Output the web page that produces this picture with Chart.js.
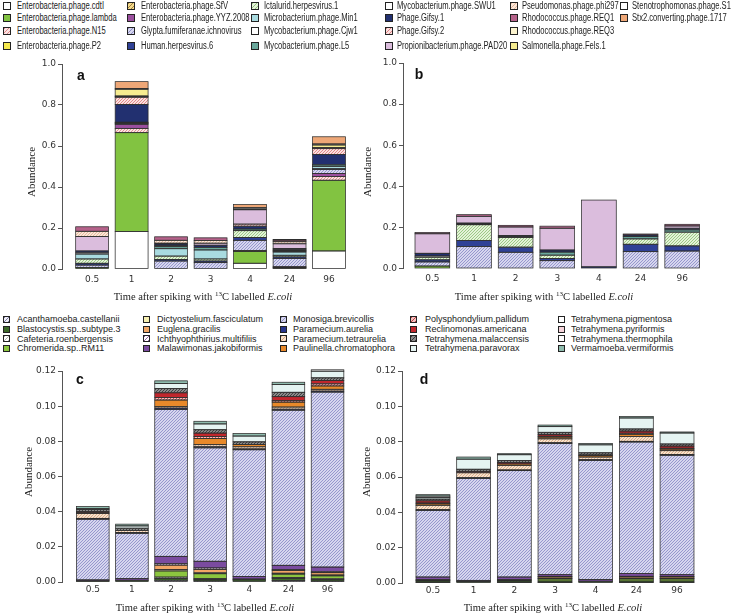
<!DOCTYPE html>
<html><head><meta charset="utf-8">
<script src="https://cdn.jsdelivr.net/npm/chart.js@4.4.0/dist/chart.umd.min.js"></script>
<style>
html,body{margin:0;padding:0;background:#fff;}
#root{position:relative;width:739px;height:615px;overflow:hidden;background:#fff;}
canvas{position:absolute;}
.sw{position:absolute;box-sizing:border-box;border:1.5px solid #222;}
.tx{position:absolute;transform-origin:0 50%;white-space:nowrap;font-family:"Liberation Sans",Arial,sans-serif;color:#222222;}
.ytitle{position:absolute;font-family:"Liberation Serif","Times New Roman",serif;font-size:11px;color:#222;transform:translate(-50%,-50%) rotate(-90deg);white-space:nowrap;}
.xtitle{position:absolute;font-family:"Liberation Serif","Times New Roman",serif;font-size:10.5px;color:#222;transform:translate(-50%,-50%);white-space:nowrap;}
.xtitle sup{font-size:7px;vertical-align:4px;line-height:0;}
.plab{position:absolute;font-family:"Liberation Sans",Arial,sans-serif;font-weight:bold;font-size:14px;color:#111;transform:translate(-50%,-50%);}
</style></head>
<body><div id="root"></div>
<script>
// ---------- data ----------
const times = ['0.5','1','2','3','4','24','96'];
const yTicksAB = [0, 0.2, 0.4, 0.6, 0.8, 1.0];
const yTicksCD = [0, 0.02, 0.04, 0.06, 0.08, 0.10, 0.12];

const virusNames = ['Enterobacteria.phage.cdtI','Enterobacteria.phage.lambda','Enterobacteria.phage.N15','Enterobacteria.phage.P2',
 'Enterobacteria.phage.SfV','Enterobacteria.phage.YYZ.2008','Glypta.fumiferanae.ichnovirus','Human.herpesvirus.6',
 'Ictalurid.herpesvirus.1','Microbacterium.phage.Min1','Mycobacterium.phage.Cjw1','Mycobacterium.phage.L5',
 'Mycobacterium.phage.SWU1','Phage.Gifsy.1','Phage.Gifsy.2','Propionibacterium.phage.PAD20',
 'Pseudomonas.phage.phi297','Rhodococcus.phage.REQ1','Rhodococcus.phage.REQ3','Salmonella.phage.Fels.1',
 'Stenotrophomonas.phage.S1','Stx2.converting.phage.1717'];

const eukNames = ['Acanthamoeba.castellanii','Blastocystis.sp..subtype.3','Cafeteria.roenbergensis','Chromerida.sp..RM11',
 'Dictyostelium.fasciculatum','Euglena.gracilis','Ichthyophthirius.multifiliis','Malawimonas.jakobiformis',
 'Monosiga.brevicollis','Paramecium.aurelia','Paramecium.tetraurelia','Paulinella.chromatophora',
 'Polysphondylium.pallidum','Reclinomonas.americana','Tetrahymena.malaccensis','Tetrahymena.paravorax',
 'Tetrahymena.pigmentosa','Tetrahymena.pyriformis','Tetrahymena.thermophila','Vermamoeba.vermiformis'];

// panel a: one row per virus (legend order), one column per time
const virusA = [
 [0,0.183,0,0,0.028,0,0.088],
 [0.008,0.482,0,0,0.057,0.004,0.345],
 [0,0.021,0,0,0,0.004,0.018],
 [0,0,0,0,0,0,0],
 [0,0,0,0,0.005,0,0],
 [0,0.02,0,0,0,0.003,0.015],
 [0.011,0.004,0.039,0.031,0.05,0.04,0.02],
 [0.009,0.003,0.008,0.008,0.014,0.008,0.003],
 [0.021,0,0.016,0.01,0.033,0.008,0],
 [0.024,0,0.036,0.044,0,0.016,0.012],
 [0.006,0,0,0,0,0.004,0],
 [0,0.003,0.01,0.013,0.008,0.004,0.007],
 [0,0,0.005,0,0,0.003,0],
 [0.009,0.087,0.008,0.01,0.014,0.006,0.05],
 [0,0.035,0,0,0.01,0,0.029],
 [0.07,0,0.004,0.01,0.07,0.023,0],
 [0.026,0.003,0.014,0.013,0.004,0.01,0],
 [0.022,0.003,0.017,0.013,0,0.008,0.005],
 [0,0,0,0,0,0,0],
 [0,0.033,0,0,0,0,0.013],
 [0,0.004,0,0,0.006,0.003,0.005],
 [0,0.033,0,0,0.016,0,0.035]
];
// panel b
const virusB = [
 [0,0,0,0,0,0,0],
 [0.012,0,0,0,0,0,0],
 [0,0,0,0,0,0,0],
 [0,0,0,0,0,0,0],
 [0,0,0,0,0,0,0],
 [0,0,0,0,0,0,0],
 [0.02,0.107,0.079,0.038,0,0.082,0.085],
 [0.01,0.029,0.025,0.011,0.008,0.036,0.025],
 [0.013,0.077,0.047,0.016,0,0.026,0.067],
 [0,0,0,0,0,0,0],
 [0.006,0,0,0,0,0,0],
 [0,0.004,0.005,0.015,0,0.011,0.011],
 [0,0,0,0,0,0,0],
 [0.013,0.004,0.005,0.01,0,0.008,0.008],
 [0,0,0,0,0,0,0],
 [0.095,0.033,0.041,0.106,0.325,0,0.011],
 [0,0,0,0,0,0,0],
 [0.006,0.008,0.008,0.01,0,0.005,0.008],
 [0,0,0,0,0,0,0],
 [0,0,0,0,0,0,0],
 [0,0,0,0,0,0,0],
 [0,0,0,0,0,0,0]
];
// panel c: one row per eukaryote
const eukC = [
 [0,0,0.001,0.0006,0,0.0008,0.0005],
 [0.0006,0.001,0.001,0.0008,0.0012,0.0012,0.0008],
 [0,0,0.0008,0.0005,0,0.0006,0.0005],
 [0,0,0.0035,0.0028,0.0005,0.0019,0.0017],
 [0,0,0.0008,0.0005,0,0.0005,0.0005],
 [0,0,0.0025,0.002,0,0.0015,0.0013],
 [0,0,0.0008,0.0008,0,0.0006,0.0005],
 [0.0006,0.0009,0.0042,0.0038,0.0015,0.0024,0.0027],
 [0.0345,0.0258,0.0835,0.0645,0.072,0.0882,0.0995],
 [0.0005,0.0004,0.0008,0.0006,0.0005,0.0006,0.0006],
 [0.0028,0.0012,0.0008,0.0012,0.0012,0.0012,0.001],
 [0.0004,0,0.0038,0.0035,0.0013,0.0028,0.0019],
 [0,0,0.0015,0.0012,0,0.0008,0.0012],
 [0.0006,0,0.0026,0.0019,0,0.0023,0.0019],
 [0.0012,0.0013,0.0025,0.0019,0.0015,0.0025,0.0015],
 [0.0006,0.0013,0.0028,0.0033,0.0033,0.0044,0.0038],
 [0,0,0,0,0,0,0],
 [0,0,0,0,0,0,0],
 [0,0,0,0,0,0,0],
 [0.0012,0.001,0.0015,0.0015,0.0015,0.0013,0.0008]
];
// panel d
const eukD = [
 [0.0003,0,0.0003,0.0003,0,0.0003,0.0003],
 [0.0008,0.0008,0.0008,0.0008,0.001,0.0008,0.0008],
 [0,0,0,0,0,0,0],
 [0.0004,0,0.0004,0.0012,0,0.0012,0.0012],
 [0,0,0,0.0003,0,0.0003,0.0003],
 [0.0004,0,0.0004,0.0008,0,0.0008,0.0008],
 [0,0,0,0.0003,0,0.0004,0.0003],
 [0.0015,0.0007,0.0015,0.001,0.0009,0.0015,0.001],
 [0.0377,0.0577,0.0602,0.0742,0.0675,0.0745,0.0676],
 [0.0004,0.0004,0.0004,0.0005,0.0004,0.0004,0.0004],
 [0.0025,0.0028,0.0026,0.0022,0.0015,0.0028,0.0022],
 [0.0008,0,0.0008,0.001,0.0008,0.0012,0.0009],
 [0.0005,0,0,0.0005,0,0.0006,0.0005],
 [0.0012,0.0008,0.0008,0.001,0.0004,0.0012,0.0012],
 [0.001,0.0012,0.0012,0.0012,0.0012,0.0012,0.0012],
 [0.0009,0.0057,0.0032,0.0032,0.0045,0.0062,0.0062],
 [0,0,0,0,0,0,0],
 [0,0,0,0,0,0,0],
 [0.0008,0,0,0,0,0,0],
 [0.0008,0.0012,0.0006,0.0009,0.0007,0.0008,0.0006]
];

// ---------- styles ----------
// [fill, hatchLineColor or null]
const virusStyle = [
 ['#ffffff',null],['#82c341',null],['#fbe3e3','#e08a8a'],['#f5e94e',null],
 ['#f3d98a','#a08040'],['#9b4f9e',null],['#d6d6ee','#8f8fc8'],['#2f4196',null],
 ['#e4f2d8','#93c47d'],['#a9dbe0',null],['#ffffff',null],['#6aa89c',null],
 ['#ffffff',null],['#223070',null],['#fbe0e0','#de8080'],['#dbbddd',null],
 ['#fbe6d6','#e0b49a'],['#b5628a',null],['#fcf4cf',null],['#f6ec90',null],
 ['#ffffff',null],['#eea777',null]
];
const eukStyle = [
 ['#f0eef8','#7a7aa0'],['#3e6a2a',null],['#ffffff','#b0b0b0'],['#8cc63f',null],
 ['#f7f0b2',null],['#f2a766',null],['#ffffff','#9060a0'],['#7b4ca0',null],
 ['#d6d6ee','#8f8fc8'],['#27358c',null],['#f9e2cc','#d4a884'],['#e8892a',null],
 ['#f3c0c0','#c04040'],['#c1272d',null],['#8a8a8a','#3a3a3a'],['#e5f4f2',null],
 ['#ffffff',null],['#f6d5dc',null],['#ffffff',null],['#8fbcae',null]
];

const root = document.getElementById('root');

function hatch(bg, fg){
  const s = 3;
  const c = document.createElement('canvas'); c.width = s; c.height = s;
  const x = c.getContext('2d');
  x.fillStyle = bg; x.fillRect(0,0,s,s);
  x.strokeStyle = fg; x.lineWidth = 0.9;
  x.beginPath();
  x.moveTo(0,s); x.lineTo(s,0);
  x.moveTo(-1,1); x.lineTo(1,-1);
  x.moveTo(s-1,s+1); x.lineTo(s+1,s-1);
  x.stroke();
  return x.createPattern(c,'repeat');
}
function fillOf(st){ return st[1] ? hatch(st[0], st[1]) : st[0]; }
function cssOf(st){ return st[1] ? `repeating-linear-gradient(135deg, ${st[1]} 0 1px, ${st[0]} 1px 3px)` : st[0]; }

const outline = {
  id:'outline',
  afterDatasetsDraw(chart){
    const ctx = chart.ctx;
    ctx.save();
    ctx.strokeStyle = '#2e2e2e'; ctx.lineWidth = 0.75;
    chart.data.datasets.forEach((ds,i)=>{
      chart.getDatasetMeta(i).data.forEach(el=>{
        const p = el.getProps(['x','y','base','width'], true);
        if (!isFinite(p.y) || !isFinite(p.base)) return;
        const l = p.x - p.width/2;
        const t = Math.min(p.y,p.base), h = Math.abs(p.base - p.y);
        ctx.strokeRect(l, t, p.width, h);
      });
    });
    ctx.restore();
  }
};

function panel(o){
  const cv = document.createElement('canvas');
  cv.width = o.W; cv.height = o.H;
  cv.style.left = o.L+'px'; cv.style.top = o.T+'px';
  root.appendChild(cv);
  const WY = 30, HX = 20;
  const xs = times.map((t,i)=>0.7 + 1.2*i);
  const datasets = o.names.map((n,k)=>({
    label: n,
    data: o.rows[k].map((v,i)=>({x: xs[i], y: v})).filter(p=>p.y > 0),
    backgroundColor: fillOf(o.styles[k]),
    borderWidth: 0,
    categoryPercentage: 1/1.2,
    barPercentage: 1
  }));
  const tickFont = {family:'"DejaVu Sans", sans-serif', size:9};
  new Chart(cv, {
    type:'bar',
    data:{datasets},
    options:{
      responsive:false, animation:false, events:[],
      layout:{padding:{left:o.area.l-o.L-WY, top:o.area.t-o.T, right:o.L+o.W-o.area.r, bottom:o.T+o.H-o.area.b-HX}},
      plugins:{legend:{display:false}, tooltip:{enabled:false}},
      scales:{
        x:{type:'linear', stacked:true, offset:false, min:o.xmin, max:o.xmax,
           afterBuildTicks:s=>{ s.ticks = xs.map(v=>({value:v})); },
           afterFit:s=>{ s.height = HX; },
           grid:{display:false, drawTicks:false, offset:false},
           border:{display:false},
           ticks:{autoSkip:false, maxRotation:0, minRotation:0, padding:o.xpad, font:tickFont, color:'#333',
                  callback:(v,i)=>times[i]}},
        y:{type:'linear', stacked:true, min:0, max:o.ymax,
           afterBuildTicks:s=>{ s.ticks = o.yticks.map(v=>({value:v})); },
           afterFit:s=>{ s.width = WY; },
           grid:{drawOnChartArea:false, drawTicks:true, tickLength:4, color:'#555'},
           border:{display:true, color:'#555'},
           ticks:{padding:2, font:tickFont, color:'#333', callback:v=>Number(v).toFixed(o.dec)}}
      }
    },
    plugins:[outline]
  });
}

panel({L:0,T:50,W:370,H:250, area:{l:62,t:64,r:350,b:269}, xmin:-0.216, xmax:8.537, ymax:1, yticks:yTicksAB, dec:1, xpad:5,
       names:virusNames, rows:virusA, styles:virusStyle});
panel({L:370,T:50,W:369,H:250, area:{l:403,t:63,r:705,b:268.5}, xmin:-0.146, xmax:8.557, ymax:1, yticks:yTicksAB, dec:1, xpad:5,
       names:virusNames, rows:virusB, styles:virusStyle});
panel({L:0,T:362,W:370,H:253, area:{l:62,t:371,r:350,b:582}, xmin:-0.245, xmax:8.589, ymax:0.12, yticks:yTicksCD, dec:2, xpad:2.5,
       names:eukNames, rows:eukC, styles:eukStyle});
panel({L:370,T:362,W:369,H:253, area:{l:402,t:371,r:705,b:583}, xmin:-0.213, xmax:8.725, ymax:0.12, yticks:yTicksCD, dec:2, xpad:2.5,
       names:eukNames, rows:eukD, styles:eukStyle});

// ---------- legends ----------
function legend(names, styles, cfg){
  names.forEach((n,k)=>{
    const c = Math.floor(k / cfg.rows.length), r = k % cfg.rows.length;
    const y = cfg.rows[r];
    const sw = document.createElement('div');
    sw.className = 'sw';
    sw.style.left = cfg.sw[c]+'px'; sw.style.top = (y - cfg.size/2)+'px';
    sw.style.width = cfg.size+'px'; sw.style.height = cfg.size+'px';
    sw.style.background = cssOf(styles[k]);
    root.appendChild(sw);
    const tx = document.createElement('div');
    tx.className = 'tx';
    tx.textContent = n;
    tx.style.left = cfg.tx[c]+'px'; tx.style.top = (y - 6)+'px';
    tx.style.lineHeight = '12px'; tx.style.fontSize = cfg.font+'px';
    tx.style.transform = `scaleX(${cfg.sx})`;
    root.appendChild(tx);
  });
}
legend(virusNames, virusStyle, {rows:[5.5,18,31,46], sw:[3,127,251,385,510,620], tx:[17,141,264,397,522,632], size:8, font:10, sx:0.76});
legend(eukNames, eukStyle, {rows:[319,329,338.5,348.3], sw:[3,143,280,410,558], tx:[17,157,293,425,571], size:7, font:9, sx:1});

// ---------- titles ----------
function addText(cls, html, x, y){
  const d = document.createElement('div'); d.className = cls; d.innerHTML = html;
  d.style.left = x+'px'; d.style.top = y+'px'; root.appendChild(d);
}
const xt = 'Time after spiking with <sup>13</sup>C labelled <i>E.coli</i>';
addText('xtitle', xt, 203, 296); addText('xtitle', xt, 544, 296);
addText('xtitle', xt, 205, 607); addText('xtitle', xt, 553, 607);
addText('ytitle', 'Abundance', 31, 172); addText('ytitle', 'Abundance', 367, 172);
addText('ytitle', 'Abundance', 28, 472); addText('ytitle', 'Abundance', 366, 472);
addText('plab', 'a', 81, 75); addText('plab', 'b', 419, 74);
addText('plab', 'c', 80, 379); addText('plab', 'd', 424, 379);
</script>
</body></html>
